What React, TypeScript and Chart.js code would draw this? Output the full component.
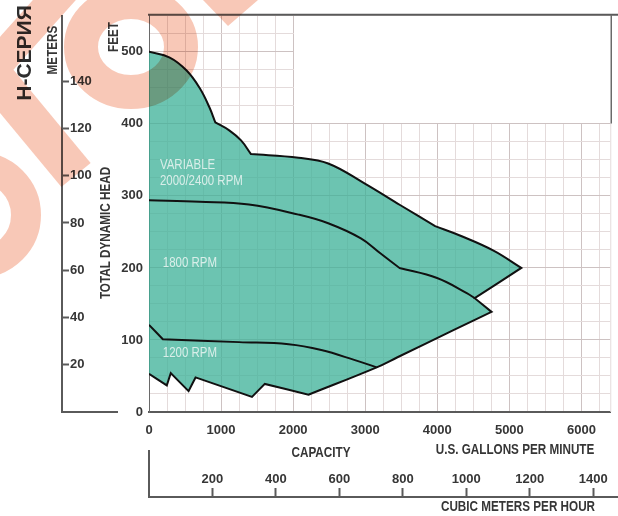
import { useEffect, useRef } from 'react';
import { Chart, registerables } from 'chart.js';

Chart.register(...registerables);

type Pt = [number, number];

// Operating envelope, capacity in US gpm vs total dynamic head in feet.
// Each piece is drawn smooth; pieces meet at sharp corners.
const envelopeShutoff: Pt[] = [[0, 500], [288, 492], [522, 474], [701, 450], [838, 423], [920, 402]];
const envelopeShoulder: Pt[] = [[920, 402], [1113, 391], [1277, 377], [1415, 358]];
const envelopeCrest: Pt[] = [[1415, 358], [2074, 353], [2486, 345], [2995, 317], [3489, 287], [3970, 258]];
const envelopeRunout: Pt[] = [[3970, 258], [4313, 245], [4780, 224], [5165, 200]];
// straight edges at the end of the curve
const envelopeNotch: Pt[] = [[5165, 200], [4519, 158], [4753, 139]];
const envelopeFloor: Pt[] = [[4753, 139], [4231, 114], [3448, 76], [3159, 62], [2212, 24]];
// minimum-flow limit, straight zig-zag back to zero flow
const minimumFlow: Pt[] = [[2212, 24], [1607, 39], [1429, 21], [646, 48], [549, 29], [302, 54], [247, 37], [0, 53]];

const rpm1800Head: Pt[] = [[0, 294], [701, 292], [1387, 288], [2074, 274], [2486, 262], [2940, 241], [3214, 220], [3475, 200]];
const rpm1800Runout: Pt[] = [[3475, 200], [3997, 186], [4409, 165], [4519, 158]];
const rpm1200Knee: Pt[] = [[0, 121], [192, 101]];
const rpm1200Head: Pt[] = [[192, 101], [1250, 97], [1937, 94], [2390, 86], [2857, 72], [3159, 62]];

const gpmLabels = [0, 1000, 2000, 3000, 4000, 5000, 6000];
const feetLabels = [0, 100, 200, 300, 400, 500];
const meterLabels = [20, 40, 60, 80, 100, 120, 140];
const m3hLabels = [200, 400, 600, 800, 1000, 1200, 1400];

const curveLabels = [
  { text: 'VARIABLE', gpm: 151, ft: 342 },
  { text: '2000/2400 RPM', gpm: 151, ft: 321 },
  { text: '1800 RPM', gpm: 192, ft: 207 },
  { text: '1200 RPM', gpm: 192, ft: 82 },
];

const GPM_MAX = 6400;
const FEET_MAX = 550;
const FT_PER_M = 3.28084;
const GPM_PER_M3H = 4.402868;

const SANS = "'Liberation Sans', Arial, sans-serif";
const INK = '#363636';
const AXIS = '#5a5a5a';
const GRID_MINOR = '#e4dbdb';
const GRID_MAJOR = '#cdc2c2';
const CONDENSED = 0.78;

const toXY = (pts: Pt[]) => pts.map(([x, y]) => ({ x, y }));
const straight = (pts: Pt[]) => pts.slice(1).map((p, i) => [pts[i], p] as Pt[]);
const joinPieces = (pieces: Pt[][]) => toXY(pieces.flat());

const envelope = joinPieces([
  envelopeShutoff,
  envelopeShoulder,
  envelopeCrest,
  envelopeRunout,
  ...straight(envelopeNotch),
  envelopeFloor,
  ...straight(minimumFlow),
]);
const rpm1800 = joinPieces([rpm1800Head, rpm1800Runout]);
const rpm1200 = joinPieces([rpm1200Knee, rpm1200Head]);

const labelFrom = (list: number[]) => (v: number | string) => (list.includes(Number(v)) ? String(v) : '');

// condensed text: squeezed along its own baseline
function drawText(
  ctx: CanvasRenderingContext2D,
  str: string,
  x: number,
  y: number,
  font: string,
  color: string,
  rotate = 0,
  align: CanvasTextAlign = 'center',
  squeeze = CONDENSED,
) {
  ctx.save();
  ctx.translate(x, y);
  if (rotate) ctx.rotate(rotate);
  ctx.scale(squeeze, 1);
  ctx.font = font;
  ctx.fillStyle = color;
  ctx.textAlign = align;
  ctx.textBaseline = 'middle';
  ctx.fillText(str, 0, 0);
  ctx.restore();
}

function line(ctx: CanvasRenderingContext2D, x1: number, y1: number, x2: number, y2: number, color: string, w: number) {
  ctx.save();
  ctx.strokeStyle = color;
  ctx.lineWidth = w;
  ctx.beginPath();
  ctx.moveTo(x1, y1);
  ctx.lineTo(x2, y2);
  ctx.stroke();
  ctx.restore();
}

// Pale logo stamp laid over the sheet
function drawStamp(ctx: CanvasRenderingContext2D, w: number, h: number) {
  const off = document.createElement('canvas');
  off.width = w;
  off.height = h;
  const o = off.getContext('2d')!;
  o.fillStyle = '#f7bfab';
  o.strokeStyle = '#f7bfab';
  o.lineCap = 'butt';
  o.lineWidth = 34;
  o.beginPath();
  o.ellipse(131, 47, 50, 45, 0, 0, Math.PI * 2);
  o.stroke();
  o.lineWidth = 32;
  o.beginPath();
  o.moveTo(75, -23);
  o.lineTo(-20, 83);
  o.stroke();
  o.lineWidth = 38;
  o.beginPath();
  o.moveTo(-25, 53);
  o.lineTo(76, 175);
  o.stroke();
  o.lineWidth = 30;
  o.beginPath();
  o.arc(-22, 215, 48, -Math.PI / 2, Math.PI / 2);
  o.stroke();
  o.beginPath();
  o.moveTo(203, 0);
  o.lineTo(228, 26);
  o.lineTo(258, 0);
  o.closePath();
  o.fill();
  ctx.save();
  ctx.globalCompositeOperation = 'multiply';
  ctx.globalAlpha = 0.85;
  ctx.drawImage(off, 0, 0);
  ctx.restore();
}

const sheet = {
  id: 'sheet',
  beforeDatasetsDraw(chart: any) {
    const { ctx, chartArea: a, scales } = chart;
    // right edge of the grid at full scale
    line(ctx, a.right + 0.5, a.top, a.right + 0.5, a.bottom, GRID_MINOR, 1);
    // blank panel above the envelope, right of 2000 gpm and above 400 ft
    const left = Math.round(scales.x.getPixelForValue(2000) - 0.5) + 1;
    const bottom = Math.round(scales.y.getPixelForValue(400) - 0.5);
    ctx.save();
    ctx.fillStyle = '#ffffff';
    ctx.fillRect(left, a.top, a.right - left + 4, bottom - a.top);
    ctx.restore();
  },
  afterDatasetsDraw(chart: any) {
    const { ctx, scales } = chart;
    const font = `14px ${SANS}`;
    for (const l of curveLabels) {
      drawText(ctx, l.text, scales.x.getPixelForValue(l.gpm), scales.y.getPixelForValue(l.ft), font, 'rgba(236,246,243,0.85)', 0, 'left', 0.82);
    }
  },
  afterDraw(chart: any) {
    const { ctx, chartArea: a, scales, width, height } = chart;
    const y400 = Math.round(scales.y.getPixelForValue(400) - 0.5) + 0.5;
    line(ctx, a.left - 1, a.top - 1, width, a.top - 1, AXIS, 2);
    line(ctx, a.right + 1, a.top - 1, a.right + 1, y400, '#6a6a6a', 1.5);
    line(ctx, scales.yM.right, a.bottom, 118, a.bottom, AXIS, 2);
    line(ctx, a.left, 450, a.left, scales.x2.top + 1, AXIS, 2);
    line(ctx, a.right, scales.x2.top, width, scales.x2.top, AXIS, 2);

    const up = -Math.PI / 2;
    const f15 = `bold 15px ${SANS}`;
    drawText(ctx, 'Н-СЕРИЯ', 25, 53, `bold 21px ${SANS}`, '#2e2e2e', up, 'center', 1);
    drawText(ctx, 'METERS', 53, 50, f15, INK, up);
    drawText(ctx, 'FEET', 114, 37, f15, INK, up);
    drawText(ctx, 'TOTAL DYNAMIC HEAD', 106, 233, f15, INK, up);
    drawText(ctx, 'CAPACITY', 321, 453, f15, INK);
    drawText(ctx, 'U.S. GALLONS PER MINUTE', 515, 450, f15, INK);
    drawText(ctx, 'CUBIC METERS PER HOUR', 518, 507, f15, INK);

    drawStamp(ctx, width, height);
  },
};

const tickFont = { family: SANS, size: 13, weight: 'bold' };

export default function App() {
  const ref = useRef<HTMLCanvasElement>(null);

  useEffect(() => {
    const chart = new Chart(ref.current!, {
      type: 'line',
      data: {
        datasets: [
          {
            data: envelope,
            order: 2,
            borderColor: '#111',
            borderWidth: 2,
            backgroundColor: 'rgba(62,178,152,0.76)',
            fill: 'shape',
            tension: 0.4,
            pointRadius: 0,
          },
          { data: rpm1800, order: 1, borderColor: '#111', borderWidth: 2, fill: false, tension: 0.4, pointRadius: 0 },
          { data: rpm1200, order: 0, borderColor: '#111', borderWidth: 2, fill: false, tension: 0.4, pointRadius: 0 },
        ],
      },
      options: {
        responsive: false,
        animation: false,
        devicePixelRatio: 1,
        events: [],
        layout: { autoPadding: false, padding: { left: 0, top: 15, right: 3, bottom: 0 } },
        plugins: { legend: { display: false }, tooltip: { enabled: false } },
        scales: {
          x: {
            type: 'linear',
            position: 'bottom',
            weight: 0,
            min: 0,
            max: GPM_MAX,
            afterFit: (s: any) => { s.height = 85; },
            ticks: { stepSize: 250, includeBounds: false, autoSkip: false, maxRotation: 0, padding: 11, color: INK, font: tickFont, callback: labelFrom(gpmLabels) },
            grid: { drawTicks: false, color: (c: any) => (c.tick.value % 1000 === 0 ? GRID_MAJOR : GRID_MINOR) },
            border: { color: AXIS, width: 2 },
          },
          x2: {
            type: 'linear',
            position: 'bottom',
            weight: 1,
            min: 0,
            max: GPM_MAX / GPM_PER_M3H,
            afterFit: (s: any) => { s.height = 19; },
            ticks: { stepSize: 200, includeBounds: false, autoSkip: false, maxRotation: 0, mirror: true, padding: 10, color: INK, font: tickFont, callback: labelFrom(m3hLabels) },
            grid: {
              drawOnChartArea: false,
              drawTicks: true,
              tickLength: -9,
              tickWidth: 2,
              tickColor: (c: any) => (m3hLabels.includes(c.tick.value) ? AXIS : 'rgba(0,0,0,0)'),
            },
            border: { color: AXIS, width: 2 },
          },
          y: {
            type: 'linear',
            position: 'left',
            weight: 0,
            min: 0,
            max: FEET_MAX,
            afterFit: (s: any) => { s.width = 87; },
            ticks: { stepSize: 25, autoSkip: false, padding: 6, color: INK, font: tickFont, callback: labelFrom(feetLabels) },
            grid: { drawTicks: false, color: (c: any) => (c.tick.value % 100 === 0 ? GRID_MAJOR : GRID_MINOR) },
            border: { color: '#6a6a6a', width: 1 },
          },
          yM: {
            type: 'linear',
            position: 'left',
            weight: 1,
            min: 0,
            max: FEET_MAX / FT_PER_M,
            afterFit: (s: any) => { s.width = 62; },
            ticks: { stepSize: 20, includeBounds: false, autoSkip: false, mirror: true, padding: 8, color: INK, font: tickFont, callback: labelFrom(meterLabels) },
            grid: {
              drawOnChartArea: false,
              drawTicks: true,
              tickLength: -7,
              tickWidth: 2,
              tickColor: (c: any) => (meterLabels.includes(c.tick.value) ? AXIS : 'rgba(0,0,0,0)'),
            },
            border: { color: AXIS, width: 2 },
          },
        },
      } as any,
      plugins: [sheet],
    });
    return () => chart.destroy();
  }, []);

  return (
    <div style={{ position: 'absolute', left: 0, top: 0, width: 618, height: 516, background: '#fff' }}>
      <canvas ref={ref} width={618} height={516} style={{ display: 'block' }} />
    </div>
  );
}
